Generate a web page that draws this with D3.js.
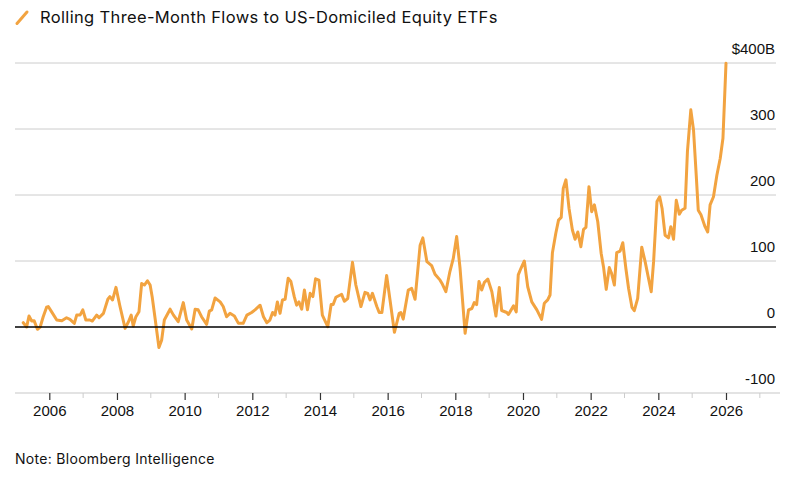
<!DOCTYPE html>
<html>
<head>
<meta charset="utf-8">
<script src="https://cdn.jsdelivr.net/npm/d3@7"></script>
<style>
  html, body { margin: 0; padding: 0; background: #fff; }
  svg { display: block; font-family: "Liberation Sans", Arial, sans-serif; }
</style>
</head>
<body>
<svg id="chart" width="795" height="481"></svg>
<script>
const titleText = "Rolling Three-Month Flows to US-Domiciled Equity ETFs";
const noteText = "Note: Bloomberg Intelligence";

const yTicks = [-100, 0, 100, 200, 300, 400];
const yTickLabels = ["-100", "0", "100", "200", "300", "$400B"];
const xMajorTicks = [2006, 2008, 2010, 2012, 2014, 2016, 2018, 2020, 2022, 2024, 2026];
const xMinorTicks = [2007, 2009, 2011, 2013, 2015, 2017, 2019, 2021, 2023, 2025, 2027];

// decimal year of each reading
const dates = [
  2005.23, 2005.33, 2005.40, 2005.48, 2005.55, 2005.65, 2005.73, 2005.82, 2005.92, 2005.97,
  2006.07, 2006.22, 2006.37, 2006.51, 2006.61, 2006.74, 2006.81, 2006.91, 2006.99,
  2007.08, 2007.20, 2007.27, 2007.40, 2007.47, 2007.60, 2007.73, 2007.79, 2007.87, 2007.97,
  2008.09, 2008.24, 2008.34, 2008.42, 2008.48, 2008.56, 2008.65, 2008.73, 2008.81, 2008.90, 2008.98,
  2009.04, 2009.12, 2009.24, 2009.32, 2009.40, 2009.57, 2009.67, 2009.81, 2009.96,
  2010.06, 2010.21, 2010.31, 2010.40, 2010.50, 2010.65, 2010.73, 2010.80, 2010.90,
  2011.05, 2011.14, 2011.24, 2011.34, 2011.47, 2011.59, 2011.73, 2011.84, 2011.98,
  2012.08, 2012.23, 2012.33, 2012.43, 2012.52, 2012.60, 2012.67, 2012.74, 2012.82, 2012.89, 2012.97,
  2013.06, 2013.14, 2013.24, 2013.31, 2013.38, 2013.46, 2013.54, 2013.63, 2013.71, 2013.79, 2013.87, 2013.97,
  2014.07, 2014.23, 2014.33, 2014.39, 2014.47, 2014.54, 2014.64, 2014.72, 2014.82, 2014.96,
  2015.06, 2015.21, 2015.33, 2015.41, 2015.48, 2015.55, 2015.68, 2015.75, 2015.83, 2015.97,
  2016.07, 2016.20, 2016.34, 2016.39, 2016.46, 2016.61, 2016.71, 2016.81, 2016.96,
  2017.04, 2017.16, 2017.30, 2017.40, 2017.55, 2017.62, 2017.72, 2017.84, 2017.94,
  2018.04, 2018.14, 2018.29, 2018.39, 2018.49, 2018.56, 2018.63, 2018.70, 2018.78, 2018.86, 2018.96,
  2019.08, 2019.20, 2019.30, 2019.37, 2019.52, 2019.57, 2019.72, 2019.80, 2019.86, 2019.94,
  2020.04, 2020.14, 2020.26, 2020.41, 2020.55, 2020.63, 2020.73, 2020.80, 2020.87, 2020.97,
  2021.05, 2021.13, 2021.19, 2021.27, 2021.36, 2021.46, 2021.54, 2021.62, 2021.71, 2021.79, 2021.86, 2021.95,
  2022.03, 2022.11, 2022.21, 2022.31, 2022.38, 2022.46, 2022.55, 2022.62, 2022.70, 2022.77, 2022.87, 2022.95,
  2023.04, 2023.12, 2023.22, 2023.29, 2023.39, 2023.51, 2023.61, 2023.79, 2023.86, 2023.96,
  2024.04, 2024.11, 2024.20, 2024.30, 2024.37, 2024.45, 2024.53, 2024.62, 2024.69, 2024.79, 2024.86, 2024.96,
  2025.04, 2025.12, 2025.18, 2025.26, 2025.38, 2025.46, 2025.53, 2025.63, 2025.73, 2025.83, 2025.91, 2026.00
];

// rolling three-month flows, $B
const flows = [
  6.5, 0, 16.7, 9, 9.6, -3.5, 0, 15.6, 30, 31,
  23, 10.6, 9.6, 14, 11.6, 5.5, 18, 18, 26,
  10.6, 10.6, 9, 18, 14, 20.7, 42, 46, 41, 60,
  31, -2, 8, 18, 1.5, 15.6, 23, 66, 63.6, 70, 63.6,
  46, 15.6, -31, -20, 10.6, 27, 18, 8, 37,
  10.6, -3, 27, 26, 15.6, 4, 24, 26, 44,
  38, 31, 15.6, 20.7, 16.7, 5.5, 5.5, 18, 22,
  26, 33, 15.6, 6.5, 10.6, 22, 18, 38, 20.7, 41, 42,
  74, 69, 46, 33, 38, 27, 56, 26, 51, 46, 73, 71,
  18, 0.5, 34, 34, 45, 47, 49.5, 39, 43, 98,
  63.6, 31, 52.5, 51, 41, 51, 31, 22, 22, 78,
  41, -8, 20.7, 22, 12, 56, 58.6, 42, 124,
  135, 99, 93, 80, 71, 64.7, 53.5, 84, 104,
  137, 89, -9.6, 26, 28, 37, 34, 69, 56, 67.7, 72.7,
  53.5, 16.7, 60, 25, 22, 19, 32, 23, 79, 89,
  100, 61, 38, 26, 11.6, 36, 41, 48.5, 112.6, 142,
  162, 166, 210, 223, 180, 147, 133, 144, 121.7, 148, 151, 212.6,
  174.7, 185, 159.5, 111.7, 91, 57, 90, 81, 63.6, 112.6, 115, 127.7,
  89, 58.6, 29.8, 24.7, 43.5, 121, 99, 53.5, 99, 190,
  197.4, 180, 139, 135, 152, 133, 192, 171, 177, 180, 265.6, 329,
  298.5, 230, 177, 170, 152, 144, 185, 197.4, 230, 255.6, 286, 399.5
];

const data = dates.map((d, i) => ({ date: d, value: flows[i] }));

const svg = d3.select("#chart");
const plotLeft = 15, plotRight = 776;

const x = d3.scaleLinear().domain([2006, 2026]).range([49.3, 726]);
const y = d3.scaleLinear().domain([-100, 400]).range([393, 63]);

// gridlines
svg.append("g").selectAll("line")
  .data(yTicks.filter(t => t !== 0 && t !== -100))
  .join("line")
  .attr("x1", plotLeft).attr("x2", plotRight)
  .attr("y1", d => y(d)).attr("y2", d => y(d))
  .attr("stroke", "#cccccc").attr("stroke-width", 1);

// y labels
svg.append("g").selectAll("text")
  .data(yTicks)
  .join("text")
  .attr("x", 775)
  .attr("y", d => y(d) - 9)
  .attr("text-anchor", "end")
  .attr("font-size", 15)
  .attr("fill", "#111")
  .text((d, i) => yTickLabels[i]);

// x axis baseline (also -100 gridline)
svg.append("line")
  .attr("x1", plotLeft).attr("x2", 780)
  .attr("y1", y(-100)).attr("y2", y(-100))
  .attr("stroke", "#c8c8c8").attr("stroke-width", 1.2);

// x axis via d3 axis
const xAxis = d3.axisBottom(x)
  .tickValues(xMajorTicks)
  .tickFormat(d3.format("d"))
  .tickSize(7)
  .tickPadding(5);
const gx = svg.append("g")
  .attr("transform", `translate(0,${y(-100)})`)
  .call(xAxis);
gx.select(".domain").remove();
gx.selectAll(".tick line").attr("stroke", "#333").attr("stroke-width", 1.2);
gx.selectAll(".tick text")
  .attr("font-size", 15)
  .attr("font-family", "Liberation Sans, Arial, sans-serif")
  .attr("fill", "#111");

// minor ticks
svg.append("g").selectAll("line")
  .data(xMinorTicks)
  .join("line")
  .attr("x1", d => x(d)).attr("x2", d => x(d))
  .attr("y1", y(-100)).attr("y2", y(-100) + 5)
  .attr("stroke", "#cccccc").attr("stroke-width", 1);

// series line
const line = d3.line()
  .x(d => x(d.date))
  .y(d => y(d.value))
  .curve(d3.curveLinear);

svg.append("path")
  .datum(data)
  .attr("fill", "none")
  .attr("stroke", "#f2a340")
  .attr("stroke-width", 3)
  .attr("stroke-linejoin", "round")
  .attr("stroke-linecap", "round")
  .attr("d", line);

// zero line on top
svg.append("line")
  .attr("x1", plotLeft).attr("x2", plotRight)
  .attr("y1", y(0)).attr("y2", y(0))
  .attr("stroke", "#000").attr("stroke-width", 1.5);

// title with legend swatch
svg.append("line")
  .attr("x1", 17).attr("y1", 23.5)
  .attr("x2", 27).attr("y2", 12)
  .attr("stroke", "#f2a340").attr("stroke-width", 3)
  .attr("stroke-linecap", "round");

svg.append("text")
  .attr("x", 40).attr("y", 23)
  .attr("font-size", 16.5)
  .attr("font-family", "Inter, 'Liberation Sans', Arial, sans-serif")
  .attr("letter-spacing", "0.35")
  .attr("fill", "#111")
  .text(titleText);

svg.append("text")
  .attr("x", 15).attr("y", 464)
  .attr("font-size", 14)
  .attr("font-family", "Inter, 'Liberation Sans', Arial, sans-serif")
  .attr("letter-spacing", "0.3")
  .attr("fill", "#111")
  .text(noteText);
</script>
</body>
</html>
